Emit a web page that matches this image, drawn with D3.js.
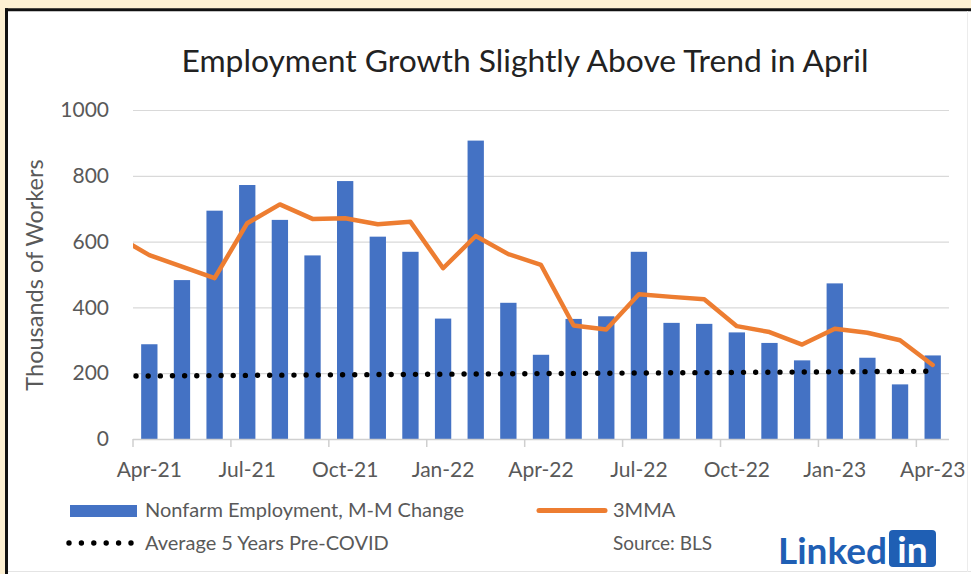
<!DOCTYPE html>
<html>
<head>
<meta charset="utf-8">
<script src="https://cdn.jsdelivr.net/npm/d3@7"></script>
<style>
  html, body { margin: 0; padding: 0; background: #fdf0d2; }
  svg { display: block; }
  text { font-family: Lato, "Noto Sans", sans-serif; }
</style>
</head>
<body>
<svg id="chart" width="971" height="574"></svg>
<script>
// Monthly categories (bars)
const months = ["Apr-21","May-21","Jun-21","Jul-21","Aug-21","Sep-21","Oct-21","Nov-21","Dec-21",
  "Jan-22","Feb-22","Mar-22","Apr-22","May-22","Jun-22","Jul-22","Aug-22","Sep-22","Oct-22","Nov-22","Dec-22",
  "Jan-23","Feb-23","Mar-23","Apr-23"];

// Nonfarm employment, month-over-month change (thousands)
const nonfarmChange = [288, 483, 694, 772, 666, 558, 784, 615, 569,
  366, 907, 414, 256, 365, 373, 569, 353, 350, 324, 292, 239,
  473, 247, 166, 254];

// Three-month moving average; the series begins one month before the first bar
const mmaMonths = ["Mar-21", ...months];
const mmaValues = [617, 559, 524, 489, 656, 713, 669, 671, 653, 660,
  519, 617, 562, 529, 345, 333, 440, 432, 425, 343, 325, 287,
  335, 323, 300, 225];

// Average 5 years pre-COVID reference line
const avgMonths = ["Mar-21", "Apr-23"];
const avgValues = [191, 206];

// Axis ticks
const yTicks = [0, 200, 400, 600, 800, 1000];
const xTickMonths = ["Apr-21","Jul-21","Oct-21","Jan-22","Apr-22","Jul-22","Oct-22","Jan-23","Apr-23"];

const svg = d3.select("#chart");
const W = 971, H = 574;

// Frame: cream page, black rule on top and left, white panel
svg.append("rect").attr("width", W).attr("height", H).attr("fill", "#fdf0d2");
svg.append("rect").attr("x", 8).attr("y", 11).attr("width", W - 8).attr("height", H - 11)
  .attr("fill", "#ffffff");
svg.append("line").attr("x1", 5).attr("x2", W).attr("y1", 9.7).attr("y2", 9.7)
  .attr("stroke", "#111").attr("stroke-width", 3);
svg.append("line").attr("x1", 6.5).attr("x2", 6.5).attr("y1", 8.2).attr("y2", H)
  .attr("stroke", "#111").attr("stroke-width", 3);
svg.append("line").attr("x1", 8).attr("x2", W).attr("y1", 571.5).attr("y2", 571.5)
  .attr("stroke", "#e4e4e4").attr("stroke-width", 1);
svg.append("line").attr("x1", 967.5).attr("x2", 967.5).attr("y1", 11).attr("y2", 572)
  .attr("stroke", "#ececec").attr("stroke-width", 1);

const plotLeft = 133, plotRight = 949, plotTop = 110, plotBottom = 439;
const step = (plotRight - plotLeft) / months.length;

const x = d3.scaleBand()
  .domain(mmaMonths)
  .range([plotLeft - step, plotRight])
  .paddingInner(0.5)
  .paddingOuter(0.25);
const xc = m => x(m) + x.bandwidth() / 2;
const xEdge = m => x(m) - x.step() * x.paddingOuter();

const y = d3.scaleLinear().domain([0, 1000]).range([plotBottom, plotTop]);

// Title
svg.append("text")
  .attr("x", 525).attr("y", 72)
  .attr("text-anchor", "middle")
  .attr("font-size", 31.8)
  .attr("fill", "#222")
  .text("Employment Growth Slightly Above Trend in April");

// Gridlines and y labels
const yAxis = d3.axisLeft(y).tickValues(yTicks).tickSize(-(plotRight - plotLeft)).tickPadding(24)
  .tickFormat(d3.format("d"));
const gy = svg.append("g").attr("transform", `translate(${plotLeft},0)`).call(yAxis);
gy.select(".domain").remove();
gy.selectAll(".tick line").attr("stroke", "#d9d9d9").attr("stroke-width", 1.2)
  .filter(d => d === 0).remove();
gy.selectAll(".tick text").attr("font-size", 21).attr("fill", "#595959")
  .attr("font-family", "Lato, sans-serif");

// Y axis title
svg.append("text")
  .attr("transform", `translate(43,275) rotate(-90)`)
  .attr("text-anchor", "middle")
  .attr("font-size", 23.5)
  .attr("fill", "#595959")
  .text("Thousands of Workers");

// Bars
svg.append("g").selectAll("rect")
  .data(months.map((m, i) => ({ m, v: nonfarmChange[i] })))
  .join("rect")
  .attr("x", d => x(d.m))
  .attr("width", x.bandwidth())
  .attr("y", d => y(d.v))
  .attr("height", d => y(0) - y(d.v))
  .attr("fill", "#4472c4");

// X axis baseline, tick marks at month boundaries, labels at month centres
svg.append("line")
  .attr("x1", plotLeft).attr("x2", plotRight)
  .attr("y1", y(0) + 0.5).attr("y2", y(0) + 0.5)
  .attr("stroke", "#d0d0d0").attr("stroke-width", 1.5);
const gx = svg.append("g").attr("transform", `translate(0,${y(0)})`);
gx.selectAll("line.tick")
  .data(xTickMonths)
  .join("line")
  .attr("class", "tick")
  .attr("x1", d => xEdge(d)).attr("x2", d => xEdge(d))
  .attr("y1", 0).attr("y2", 8)
  .attr("stroke", "#cfcfcf").attr("stroke-width", 1.5);
gx.selectAll("text")
  .data(xTickMonths)
  .join("text")
  .attr("x", d => xc(d))
  .attr("y", 38)
  .attr("text-anchor", "middle")
  .attr("font-size", 21)
  .attr("fill", "#595959")
  .text(d => d);

// Lines clipped to the plot area
svg.append("clipPath").attr("id", "plotClip")
  .append("rect").attr("x", plotLeft).attr("y", plotTop - 20)
  .attr("width", plotRight - plotLeft).attr("height", plotBottom - plotTop + 20);

const lineGen = d3.line().x(d => xc(d.m)).y(d => y(d.v));

svg.append("path")
  .datum(avgMonths.map((m, i) => ({ m, v: avgValues[i] })))
  .attr("clip-path", "url(#plotClip)")
  .attr("d", lineGen)
  .attr("fill", "none")
  .attr("stroke", "#000")
  .attr("stroke-width", 5.4)
  .attr("stroke-linecap", "round")
  .attr("stroke-dasharray", "0 12.15")
  .attr("stroke-dashoffset", -7.2);

svg.append("path")
  .datum(mmaMonths.map((m, i) => ({ m, v: mmaValues[i] })))
  .attr("clip-path", "url(#plotClip)")
  .attr("d", lineGen)
  .attr("fill", "none")
  .attr("stroke", "#ed7d31")
  .attr("stroke-width", 4.5)
  .attr("stroke-linejoin", "round")
  .attr("stroke-linecap", "round");

// Legend
const legend = svg.append("g");
legend.append("rect").attr("x", 70).attr("y", 505).attr("width", 67).attr("height", 12)
  .attr("fill", "#4472c4");
legend.append("text").attr("x", 145).attr("y", 517).attr("font-size", 20).attr("fill", "#595959")
  .text("Nonfarm Employment, M-M Change");
legend.append("line").attr("x1", 539).attr("x2", 605).attr("y1", 510.5).attr("y2", 510.5)
  .attr("stroke", "#ed7d31").attr("stroke-width", 5).attr("stroke-linecap", "round");
legend.append("text").attr("x", 613).attr("y", 517).attr("font-size", 20).attr("fill", "#595959")
  .text("3MMA");
legend.append("line").attr("x1", 69).attr("x2", 131).attr("y1", 543).attr("y2", 543)
  .attr("stroke", "#000").attr("stroke-width", 5.4).attr("stroke-linecap", "round")
  .attr("stroke-dasharray", "0 12.4");
legend.append("text").attr("x", 145).attr("y", 550).attr("font-size", 20).attr("fill", "#595959")
  .text("Average 5 Years Pre-COVID");
legend.append("text").attr("x", 613).attr("y", 550).attr("font-size", 19).attr("fill", "#595959")
  .text("Source: BLS");

// LinkedIn wordmark
const logo = svg.append("g");
logo.append("text").attr("x", 887).attr("y", 564).attr("text-anchor", "end")
  .attr("font-family", "'Liberation Sans', Arial, sans-serif")
  .attr("font-weight", "bold").attr("font-size", 37).attr("fill", "#1f5fb4")
  .text("Linked");
logo.append("rect").attr("x", 889).attr("y", 530).attr("width", 47).attr("height", 37).attr("rx", 4)
  .attr("fill", "#1f5fb4");
logo.append("text").attr("x", 912.5).attr("y", 563).attr("text-anchor", "middle")
  .attr("font-family", "'Liberation Sans', Arial, sans-serif")
  .attr("font-weight", "bold").attr("font-size", 37).attr("fill", "#fff")
  .text("in");
</script>
</body>
</html>
